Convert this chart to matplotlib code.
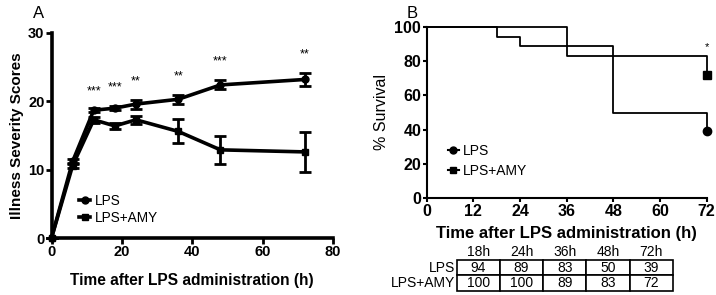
import numpy as np
import matplotlib.pyplot as plt

plt.rcParams['font.family'] = ['Liberation Sans', 'DejaVu Sans']

# panel A: illness severity scores
hours_a = [0, 6, 12, 18, 24, 36, 48, 72]
lps_mean = [0, 11.2, 18.7, 19.0, 19.6, 20.3, 22.4, 23.2]
lps_err = [0, 0.3, 0.3, 0.3, 0.65, 0.7, 0.65, 0.9]
amy_mean = [0, 10.6, 17.3, 16.4, 17.3, 15.6, 12.9, 12.6]
amy_err = [0, 0.4, 0.4, 0.4, 0.6, 1.75, 2.05, 2.95]
star_hours = [12, 18, 24, 36, 48, 72]
star_labels = ['***', '***', '**', '**', '***', '**']
star_y = [21.4, 22.0, 22.9, 23.7, 25.8, 26.8]

# panel B: survival (Kaplan-Meier steps)
surv_lps_t = [0, 18, 24, 48, 72]
surv_lps = [100, 94, 89, 50, 39]
surv_amy_t = [0, 36, 72]
surv_amy = [100, 83, 72]

# table under panel B
tab_cols = ['18h', '24h', '36h', '48h', '72h']
tab_rows = ['LPS', 'LPS+AMY']
tab_vals = [['94', '89', '83', '50', '39'],
            ['100', '100', '89', '83', '72']]

fig = plt.figure(figsize=(7.16, 2.95), dpi=100)
W, H = 716, 295
axA = fig.add_axes([51.5/W, 1-238/H, (333-51.5)/W, (238-33)/H])
axB = fig.add_axes([426.7/W, 1-198.3/H, (706.7-426.7)/W, (198.3-26.7)/H])

# ---- A ----
axA.errorbar(hours_a, lps_mean, yerr=lps_err, color='black', lw=2.6, marker='o', ms=5,
             capsize=4, capthick=2, elinewidth=2, clip_on=False, zorder=3)
axA.errorbar(hours_a, amy_mean, yerr=amy_err, color='black', lw=2.6, marker='s', ms=5,
             capsize=4, capthick=2, elinewidth=2, clip_on=False, zorder=3)
for h, s, y in zip(star_hours, star_labels, star_y):
    axA.text(h, y, s, ha='center', va='center', fontsize=9)
axA.set_xlim(0, 80)
axA.set_ylim(0, 30)
axA.set_xticks([0, 20, 40, 60, 80])
axA.set_yticks([0, 10, 20, 30])
for s in ['top', 'right']:
    axA.spines[s].set_visible(False)
for s in ['left', 'bottom']:
    axA.spines[s].set_linewidth(2.6)
axA.tick_params(width=2, length=4, labelsize=10.5, pad=1)
for lab in axA.get_xticklabels() + axA.get_yticklabels():
    lab.set_fontweight('bold')
axA.set_xlabel('Time after LPS administration (h)', fontsize=11.2, fontweight='bold', labelpad=10)
axA.set_ylabel('Illness Severity Scores', fontsize=11, fontweight='bold', labelpad=3)
axA.legend(handles=[
    plt.Line2D([], [], color='black', marker='o', ms=5, lw=2.6),
    plt.Line2D([], [], color='black', marker='s', ms=5, lw=2.6)],
    labels=['LPS', 'LPS+AMY'], loc='lower left', bbox_to_anchor=(0.075, 0.03), frameon=False,
    fontsize=9.8, handlelength=0.8, handletextpad=0.3, labelspacing=0.25, borderpad=0)
fig.text(33/W, 1-13/H, 'A', fontsize=12, va='center')

# ---- B ----
axB.step(surv_lps_t, surv_lps, where='post', color='black', lw=1.3, clip_on=False)
axB.step(surv_amy_t, surv_amy, where='post', color='black', lw=1.3, clip_on=False)
axB.plot(surv_lps_t[-1], surv_lps[-1], 'o', color='black', ms=6, clip_on=False)
axB.plot(surv_amy_t[-1], surv_amy[-1], 's', color='black', ms=6, clip_on=False)
axB.text(72, 88, '*', ha='center', va='center', fontsize=8)
axB.set_xlim(0, 72)
axB.set_ylim(0, 100)
axB.set_xticks([0, 12, 24, 36, 48, 60, 72])
axB.set_yticks([0, 20, 40, 60, 80, 100])
for s in ['top', 'right']:
    axB.spines[s].set_visible(False)
for s in ['left', 'bottom']:
    axB.spines[s].set_linewidth(1.5)
axB.tick_params(width=1.5, length=3, labelsize=11.5, pad=1)
for lab in axB.get_xticklabels() + axB.get_yticklabels():
    lab.set_fontweight('bold')
axB.set_xlabel('Time after LPS administration (h)', fontsize=12, fontweight='bold', labelpad=5)
axB.set_ylabel('% Survival', fontsize=11.5, labelpad=4)
axB.legend(handles=[
    plt.Line2D([], [], color='black', marker='o', ms=5, lw=1.5),
    plt.Line2D([], [], color='black', marker='s', ms=5, lw=1.5)],
    labels=['LPS', 'LPS+AMY'], loc='lower left', bbox_to_anchor=(0.05, 0.08), frameon=False,
    fontsize=10, handlelength=0.8, handletextpad=0.3, labelspacing=0.4, borderpad=0)
fig.text(407/W, 1-13/H, 'B', fontsize=12, va='center')

# table
cell_text = [[''] + tab_cols] + [[r] + v for r, v in zip(tab_rows, tab_vals)]
x0 = (392 - 426.7) / 280
x1 = (673 - 426.7) / 280
y0 = (198.3 - 291) / 171.6
y1 = (198.3 - 244) / 171.6
tbl = axB.table(cellText=cell_text, cellLoc='center',
                colWidths=[64.7] + [43.3] * 5,
                bbox=[x0, y0, x1 - x0, y1 - y0])
tbl.auto_set_font_size(False)
tbl.set_fontsize(10)
for (r, c), cell in tbl.get_celld().items():
    cell.set_linewidth(1.2)
    if r == 0 or c == 0:
        cell.visible_edges = 'open'
    if c == 0:
        cell._loc = 'right'
        cell.PAD = 0.02
        cell.get_text().set_ha('right')

fig.savefig('out.png', dpi=100)
